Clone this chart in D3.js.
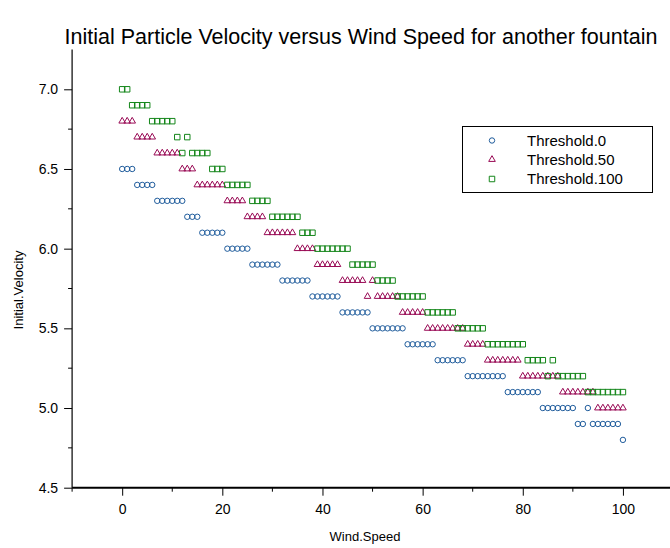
<!DOCTYPE html>
<html>
<head>
  <meta charset="utf-8">
  <title>Initial Particle Velocity versus Wind Speed</title>
  <script src="https://d3js.org/d3.v7.min.js"></script>
  <style>
    body { margin: 0; background: #fff; }
    svg { font-family: "Liberation Sans", Arial, sans-serif; }
    .tick-label { font-size: 14px; fill: #000; }
    .axis-title { font-size: 13px; fill: #000; }
    .title { font-size: 21.5px; fill: #000; }
    .legend-text { font-size: 15px; fill: #000; }
  </style>
</head>
<body>
  <script>
    // wind speeds (x) shared by all three series
    var windSpeed = [
      0, 1, 2, 3, 4, 5, 6, 7, 8, 9, 10, 11, 12, 13, 14, 15, 16, 17, 18, 19,
      20, 21, 22, 23, 24, 25, 26, 27, 28, 29, 30, 31, 32, 33, 34, 35, 36, 37, 38, 39,
      40, 41, 42, 43, 44, 45, 46, 47, 48, 49, 50, 51, 52, 53, 54, 55, 56, 57, 58, 59,
      60, 61, 62, 63, 64, 65, 66, 67, 68, 69, 70, 71, 72, 73, 74, 75, 76, 77, 78, 79,
      80, 81, 82, 83, 84, 85, 86, 87, 88, 89, 90, 91, 92, 93, 94, 95, 96, 97, 98, 99,
      100
    ];

    var threshold0 = [
      6.5, 6.5, 6.5, 6.4, 6.4, 6.4, 6.4, 6.3, 6.3, 6.3, 6.3, 6.3, 6.3, 6.2, 6.2, 6.2, 6.1, 6.1, 6.1, 6.1,
      6.1, 6.0, 6.0, 6.0, 6.0, 6.0, 5.9, 5.9, 5.9, 5.9, 5.9, 5.9, 5.8, 5.8, 5.8, 5.8, 5.8, 5.8, 5.7, 5.7,
      5.7, 5.7, 5.7, 5.7, 5.6, 5.6, 5.6, 5.6, 5.6, 5.6, 5.5, 5.5, 5.5, 5.5, 5.5, 5.5, 5.5, 5.4, 5.4, 5.4,
      5.4, 5.4, 5.4, 5.3, 5.3, 5.3, 5.3, 5.3, 5.3, 5.2, 5.2, 5.2, 5.2, 5.2, 5.2, 5.2, 5.2, 5.1, 5.1, 5.1,
      5.1, 5.1, 5.1, 5.1, 5.0, 5.0, 5.0, 5.0, 5.0, 5.0, 5.0, 4.9, 4.9, 5.0, 4.9, 4.9, 4.9, 4.9, 4.9, 4.9,
      4.8
    ];

    var threshold50 = [
      6.8, 6.8, 6.8, 6.7, 6.7, 6.7, 6.7, 6.6, 6.6, 6.6, 6.6, 6.6, 6.5, 6.5, 6.5, 6.4, 6.4, 6.4, 6.4, 6.4,
      6.4, 6.3, 6.3, 6.3, 6.3, 6.2, 6.2, 6.2, 6.2, 6.1, 6.1, 6.1, 6.1, 6.1, 6.1, 6.0, 6.0, 6.0, 6.0, 5.9,
      5.9, 5.9, 5.9, 5.9, 5.8, 5.8, 5.8, 5.8, 5.8, 5.7, 5.8, 5.7, 5.7, 5.7, 5.7, 5.7, 5.6, 5.6, 5.6, 5.6,
      5.6, 5.5, 5.5, 5.5, 5.5, 5.5, 5.5, 5.5, 5.5, 5.4, 5.4, 5.4, 5.4, 5.3, 5.3, 5.3, 5.3, 5.3, 5.3, 5.3,
      5.2, 5.2, 5.2, 5.2, 5.2, 5.2, 5.2, 5.2, 5.1, 5.1, 5.1, 5.1, 5.1, 5.1, 5.1, 5.0, 5.0, 5.0, 5.0, 5.0,
      5.0
    ];

    var threshold100 = [
      7.0, 7.0, 6.9, 6.9, 6.9, 6.9, 6.8, 6.8, 6.8, 6.8, 6.8, 6.7, 6.6, 6.7, 6.6, 6.6, 6.6, 6.6, 6.5, 6.5,
      6.5, 6.4, 6.4, 6.4, 6.4, 6.4, 6.3, 6.3, 6.3, 6.3, 6.2, 6.2, 6.2, 6.2, 6.2, 6.2, 6.1, 6.1, 6.1, 6.0,
      6.0, 6.0, 6.0, 6.0, 6.0, 6.0, 5.9, 5.9, 5.9, 5.9, 5.9, 5.8, 5.8, 5.8, 5.8, 5.7, 5.7, 5.7, 5.7, 5.7,
      5.7, 5.6, 5.6, 5.6, 5.6, 5.6, 5.6, 5.5, 5.5, 5.5, 5.5, 5.5, 5.5, 5.4, 5.4, 5.4, 5.4, 5.4, 5.4, 5.4,
      5.4, 5.3, 5.3, 5.3, 5.3, 5.2, 5.3, 5.2, 5.2, 5.2, 5.2, 5.2, 5.2, 5.1, 5.1, 5.1, 5.1, 5.1, 5.1, 5.1,
      5.1
    ];

    var seriesNames = ["Threshold.0", "Threshold.50", "Threshold.100"];
    var seriesValues = [threshold0, threshold50, threshold100];
    var seriesColors = ["#1f5c9c", "#990a55", "#14861a"];
    var seriesSymbols = [d3.symbolCircle, d3.symbolTriangle, d3.symbolSquare];
    var symbolSizes = [23, 19, 30];

    var xTicks = [0, 20, 40, 60, 80, 100];
    var xMinorTicks = [-10, 10, 30, 50, 70, 90, 110];
    var yTicks = [4.5, 5.0, 5.5, 6.0, 6.5, 7.0];
    var yMinorTicks = [4.75, 5.25, 5.75, 6.25, 6.75];

    var W = 670, H = 548;

    // plot region in page pixels
    var x = d3.scaleLinear().domain([-10, 110]).range([72.1, 673]);
    var y = d3.scaleLinear().domain([4.5, 7.0]).range([487.7, 89.3]);
    var yTop = 7.25;

    var svg = d3.select("body").append("svg")
        .attr("width", W)
        .attr("height", H);

    svg.append("text")
        .attr("class", "title")
        .attr("x", 361)
        .attr("y", 44)
        .attr("text-anchor", "middle")
        .text("Initial Particle Velocity versus Wind Speed for another fountain");

    // axes
    var xAxis = d3.axisBottom(x).tickValues(xTicks).tickSize(8).tickPadding(8)
        .tickFormat(d3.format("d"));
    var gx = svg.append("g")
        .attr("transform", "translate(0," + y(4.5) + ")")
        .call(xAxis);
    gx.select(".domain").remove();
    gx.append("line")
        .attr("x1", x(-10)).attr("x2", x(110))
        .attr("stroke", "#000").attr("stroke-width", 2);
    gx.selectAll(".minor").data(xMinorTicks).enter().append("line")
        .attr("class", "minor")
        .attr("x1", d => x(d)).attr("x2", d => x(d))
        .attr("y1", 0).attr("y2", 4)
        .attr("stroke", "#000");
    gx.selectAll(".tick text").attr("class", "tick-label").attr("font-size", null)
        .attr("font-family", null);

    var yAxis = d3.axisLeft(y).tickValues(yTicks).tickSize(8).tickPadding(6)
        .tickFormat(d3.format(".1f"));
    var gy = svg.append("g")
        .attr("transform", "translate(" + x(-10) + ",0)")
        .call(yAxis);
    gy.select(".domain").remove();
    gy.append("line")
        .attr("y1", y(yTop)).attr("y2", y(4.5))
        .attr("stroke", "#000").attr("stroke-width", 1.2);
    gy.selectAll(".minor").data(yMinorTicks).enter().append("line")
        .attr("class", "minor")
        .attr("y1", d => y(d)).attr("y2", d => y(d))
        .attr("x1", 0).attr("x2", -4)
        .attr("stroke", "#000");
    gy.selectAll(".tick text").attr("class", "tick-label").attr("font-size", null)
        .attr("font-family", null);
    svg.selectAll(".tick line").attr("stroke", "#000");

    svg.append("text")
        .attr("class", "axis-title")
        .attr("x", 365)
        .attr("y", 541)
        .attr("text-anchor", "middle")
        .text("Wind.Speed");

    svg.append("text")
        .attr("class", "axis-title")
        .attr("transform", "translate(23,290) rotate(-90)")
        .attr("text-anchor", "middle")
        .text("Initial.Velocity");

    // points
    seriesValues.forEach(function(vals, si) {
      var sym = d3.symbol().type(seriesSymbols[si]).size(symbolSizes[si]);
      svg.append("g")
        .selectAll("path")
        .data(vals.map((v, i) => ({ws: windSpeed[i], v: v})))
        .enter().append("path")
          .attr("d", sym)
          .attr("transform", d => "translate(" + x(d.ws) + "," + y(d.v) + ")")
          .attr("fill", "none")
          .attr("stroke", seriesColors[si])
          .attr("stroke-width", 1);
    });

    // legend
    var lg = svg.append("g");
    lg.append("rect")
        .attr("x", 462.5).attr("y", 126.5)
        .attr("width", 190).attr("height", 66)
        .attr("fill", "#fff").attr("stroke", "#000");
    var rows = [140.5, 159.5, 179];
    seriesNames.forEach(function(name, si) {
      lg.append("path")
        .attr("d", d3.symbol().type(seriesSymbols[si]).size(symbolSizes[si]))
        .attr("transform", "translate(492," + rows[si] + ")")
        .attr("fill", "none")
        .attr("stroke", seriesColors[si]);
      lg.append("text")
        .attr("class", "legend-text")
        .attr("x", 527)
        .attr("y", rows[si])
        .attr("dy", "0.35em")
        .text(name);
    });
  </script>
</body>
</html>
